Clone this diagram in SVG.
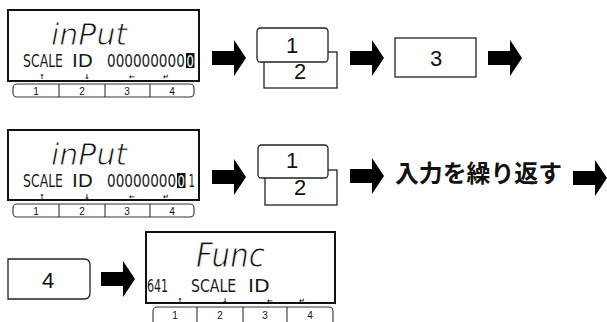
<svg xmlns="http://www.w3.org/2000/svg" width="607" height="322" viewBox="0 0 607 322">
<style>
.disp{fill:#fff;stroke:#111;stroke-width:2}
.bar{fill:#fff;stroke:#333;stroke-width:1.1}
.div{stroke:#333;stroke-width:1.1}
.blab{font-family:"Liberation Sans",Arial,sans-serif;font-size:10px;fill:#111;text-anchor:middle}
.big{font-family:"DejaVu Sans",sans-serif;font-style:italic;fill:#111;stroke:#fff;stroke-width:0.9}
.lcd{font-family:"DejaVu Sans",sans-serif;font-size:17px;fill:#1a1a1a}
.inv{font-family:"DejaVu Sans",sans-serif;font-size:15px;fill:#fff}
.sm{font-family:"DejaVu Sans",sans-serif;font-size:7px;font-weight:bold;fill:#111;text-anchor:middle}
.key{fill:#fff;stroke:#222;stroke-width:1.3}
.klab{font-family:"Liberation Sans",Arial,sans-serif;font-size:22px;fill:#111;text-anchor:middle}
.jp{font-family:"Noto Sans CJK JP","Noto Sans",sans-serif;font-weight:bold;font-size:24px;fill:#111}
</style>
<defs>
<path id="arr" d="M0,-7 H22 V-18 L34,0 L22,18 V7 H0 Z" fill="#000"/>
</defs>

<g id="display1">
<rect class="disp" x="8" y="10" width="191" height="71"/>
<text class="big" x="51" y="45" font-size="30">inPut</text>
<text class="lcd" transform="translate(23,67) scale(0.734,1)">SCALE</text>
<text class="lcd" transform="translate(72,67) scale(1.16,1)">ID</text>
<text class="lcd" transform="translate(107,67) scale(0.8,1)">000000000</text>
<rect x="186" y="53" width="8.5" height="15" fill="#111"/>
<text class="inv" transform="translate(186.6,66.5) scale(0.77,1)">0</text>
<text class="sm" x="42" y="79">↑</text>
<text class="sm" x="87" y="79">↓</text>
<text class="sm" x="132" y="79">←</text>
<text class="sm" x="166" y="79">↵</text>
<rect class="bar" x="13" y="84" width="181" height="13" rx="4"/>
<line class="div" x1="59" y1="84" x2="59" y2="97"/>
<line class="div" x1="105" y1="84" x2="105" y2="97"/>
<line class="div" x1="150" y1="84" x2="150" y2="97"/>
<text class="blab" x="36" y="94.5">1</text>
<text class="blab" x="82" y="94.5">2</text>
<text class="blab" x="127" y="94.5">3</text>
<text class="blab" x="172" y="94.5">4</text>
</g>

<g id="keys12a">
<rect class="key" x="264" y="52" width="73" height="36"/>
<text class="klab" x="300" y="79">2</text>
<rect class="key" x="257" y="28" width="71" height="34" rx="3.5"/>
<text class="klab" x="292" y="53">1</text>
</g>

<g id="key3">
<rect class="key" x="395" y="38" width="81" height="39"/>
<text class="klab" x="436" y="66">3</text>
</g>

<g id="display2">
<rect class="disp" x="8" y="130" width="191" height="70"/>
<text class="big" x="51" y="165" font-size="30">inPut</text>
<text class="lcd" transform="translate(23,187) scale(0.734,1)">SCALE</text>
<text class="lcd" transform="translate(72,187) scale(1.16,1)">ID</text>
<text class="lcd" transform="translate(107,187) scale(0.8,1)">00000000</text>
<rect x="177" y="173" width="8.5" height="15" fill="#111"/>
<text class="inv" transform="translate(177.6,186.5) scale(0.77,1)">0</text>
<text class="lcd" transform="translate(188.5,187) scale(0.6,1)">1</text>
<text class="sm" x="42" y="199">↑</text>
<text class="sm" x="87" y="199">↓</text>
<text class="sm" x="132" y="199">←</text>
<text class="sm" x="166" y="199">↵</text>
<rect class="bar" x="13" y="204" width="181" height="13" rx="4"/>
<line class="div" x1="59" y1="204" x2="59" y2="217"/>
<line class="div" x1="105" y1="204" x2="105" y2="217"/>
<line class="div" x1="150" y1="204" x2="150" y2="217"/>
<text class="blab" x="36" y="214.5">1</text>
<text class="blab" x="82" y="214.5">2</text>
<text class="blab" x="127" y="214.5">3</text>
<text class="blab" x="172" y="214.5">4</text>
</g>

<g id="keys12b">
<rect class="key" x="265" y="170" width="72" height="35"/>
<text class="klab" x="300" y="195">2</text>
<rect class="key" x="258" y="145" width="70" height="33" rx="3.5"/>
<text class="klab" x="292" y="168">1</text>
</g>

<g id="repeat">
<text class="jp" x="395" y="182" textLength="167" lengthAdjust="spacingAndGlyphs">入力を繰り返す</text>
</g>

<g id="key4">
<path class="key" d="M8,259 H84 Q90,259 90,265 V293 Q90,299 84,299 H8 Z"/>
<text class="klab" x="48" y="288" font-size="21">4</text>
</g>

<g id="display3">
<rect class="disp" x="146" y="232" width="189" height="71"/>
<text class="big" transform="translate(196,267) scale(0.86,1)" font-size="34">Func</text>
<text class="lcd" transform="translate(147,292) scale(0.65,1)">641</text>
<text class="lcd" transform="translate(191,292) scale(0.83,1)">SCALE</text>
<text class="lcd" transform="translate(248,292) scale(1.2,1)">ID</text>
<text class="sm" x="180" y="303">↑</text>
<text class="sm" x="225" y="303">↓</text>
<text class="sm" x="270" y="303">←</text>
<text class="sm" x="302" y="303">↵</text>
<rect class="bar" x="153" y="307" width="180" height="22" rx="4"/>
<line class="div" x1="197" y1="307" x2="197" y2="322"/>
<line class="div" x1="243" y1="307" x2="243" y2="322"/>
<line class="div" x1="287" y1="307" x2="287" y2="322"/>
<text class="blab" x="175" y="319">1</text>
<text class="blab" x="220" y="319">2</text>
<text class="blab" x="265" y="319">3</text>
<text class="blab" x="310" y="319">4</text>
</g>

<g id="connectors">
<use href="#arr" x="212" y="58"/>
<use href="#arr" x="350" y="58"/>
<use href="#arr" x="488" y="58"/>
<use href="#arr" x="212" y="177"/>
<use href="#arr" x="350" y="176"/>
<use href="#arr" x="573" y="178"/>
<use href="#arr" x="101" y="279"/>
</g>
</svg>
